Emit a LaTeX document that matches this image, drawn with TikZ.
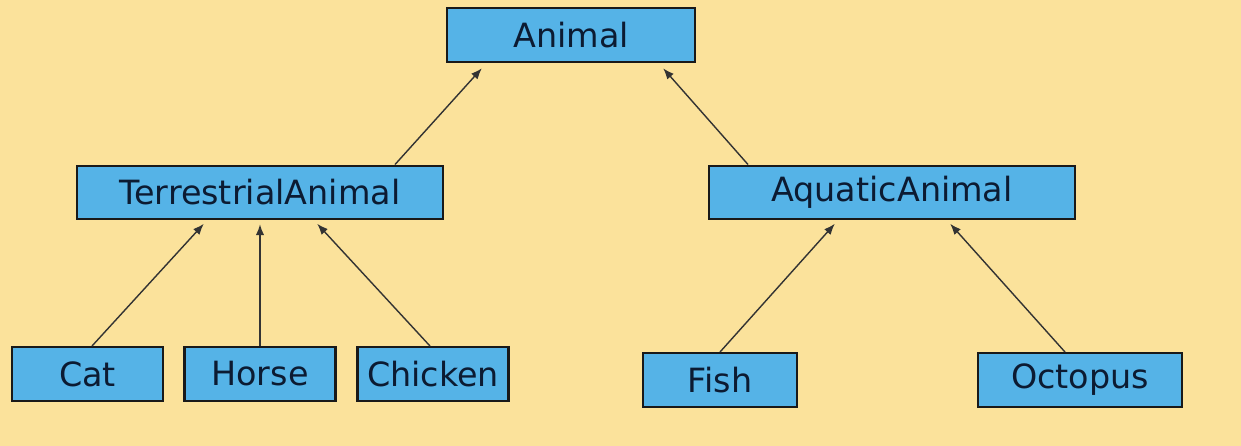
\documentclass[tikz,border=0pt]{standalone}
\usepackage{fontspec}
\setmainfont{DejaVu Sans}
\usepackage{xcolor}
\usetikzlibrary{arrows.meta}
\definecolor{bgyellow}{HTML}{FBE29B}
\definecolor{boxblue}{HTML}{55B3E7}
\definecolor{inkblue}{HTML}{0C1B32}
\tikzset{
    cls/.style={draw=black!90, line width=1.4pt, fill=boxblue, text=inkblue,
        inner sep=0pt, minimum height=1.07cm,
        font=\fontsize{19}{23}\selectfont},
    isa/.style={draw=black!80, line width=0.8pt, -{Latex[length=2.2mm,width=1.7mm]}, shorten >=1pt}
}

\begin{document}
\begin{tikzpicture}
    \fill[bgyellow] (0,0) rectangle (24.82,-8.92);
    \useasboundingbox (0,0) rectangle (24.82,-8.92);
    % top
    \node[cls, minimum width=4.96cm] (animal) at (11.42,-0.70) {Animal};
    % middle
    \node[cls, minimum width=7.32cm] (terr) at (5.20,-3.85) {TerrestrialAnimal};
    \node[cls, minimum width=7.32cm] (aqua) at (17.84,-3.85) {AquaticAnimal};
    % leaves
    \node[cls, minimum width=3.02cm] (cat) at (1.75,-7.48) {Cat};
    \node[cls, minimum width=3.02cm] (horse) at (5.20,-7.48) {Horse};
    \node[cls, minimum width=3.02cm] (chicken) at (8.66,-7.48) {Chicken};
    \node[cls, minimum width=3.08cm] (fish) at (14.40,-7.60) {Fish};
    \node[cls, minimum width=4.08cm] (octopus) at (21.60,-7.60) {Octopus};
    % inheritance
    \draw[isa] ([xshift=2.70cm]terr.north) -- ([xshift=-1.76cm,yshift=-0.08cm]animal.south);
    \draw[isa] ([xshift=-2.88cm]aqua.north) -- ([xshift=1.82cm,yshift=-0.08cm]animal.south);
    \draw[isa] ([xshift=0.09cm]cat.north) -- ([xshift=-1.10cm,yshift=-0.04cm]terr.south);
    \draw[isa] (horse.north) -- ([yshift=-0.04cm]terr.south);
    \draw[isa] ([xshift=-0.06cm]chicken.north) -- ([xshift=1.12cm,yshift=-0.04cm]terr.south);
    \draw[isa] (fish.north) -- ([xshift=-1.12cm,yshift=-0.04cm]aqua.south);
    \draw[isa] ([xshift=-0.30cm]octopus.north) -- ([xshift=1.14cm,yshift=-0.04cm]aqua.south);
\end{tikzpicture}
\end{document}
